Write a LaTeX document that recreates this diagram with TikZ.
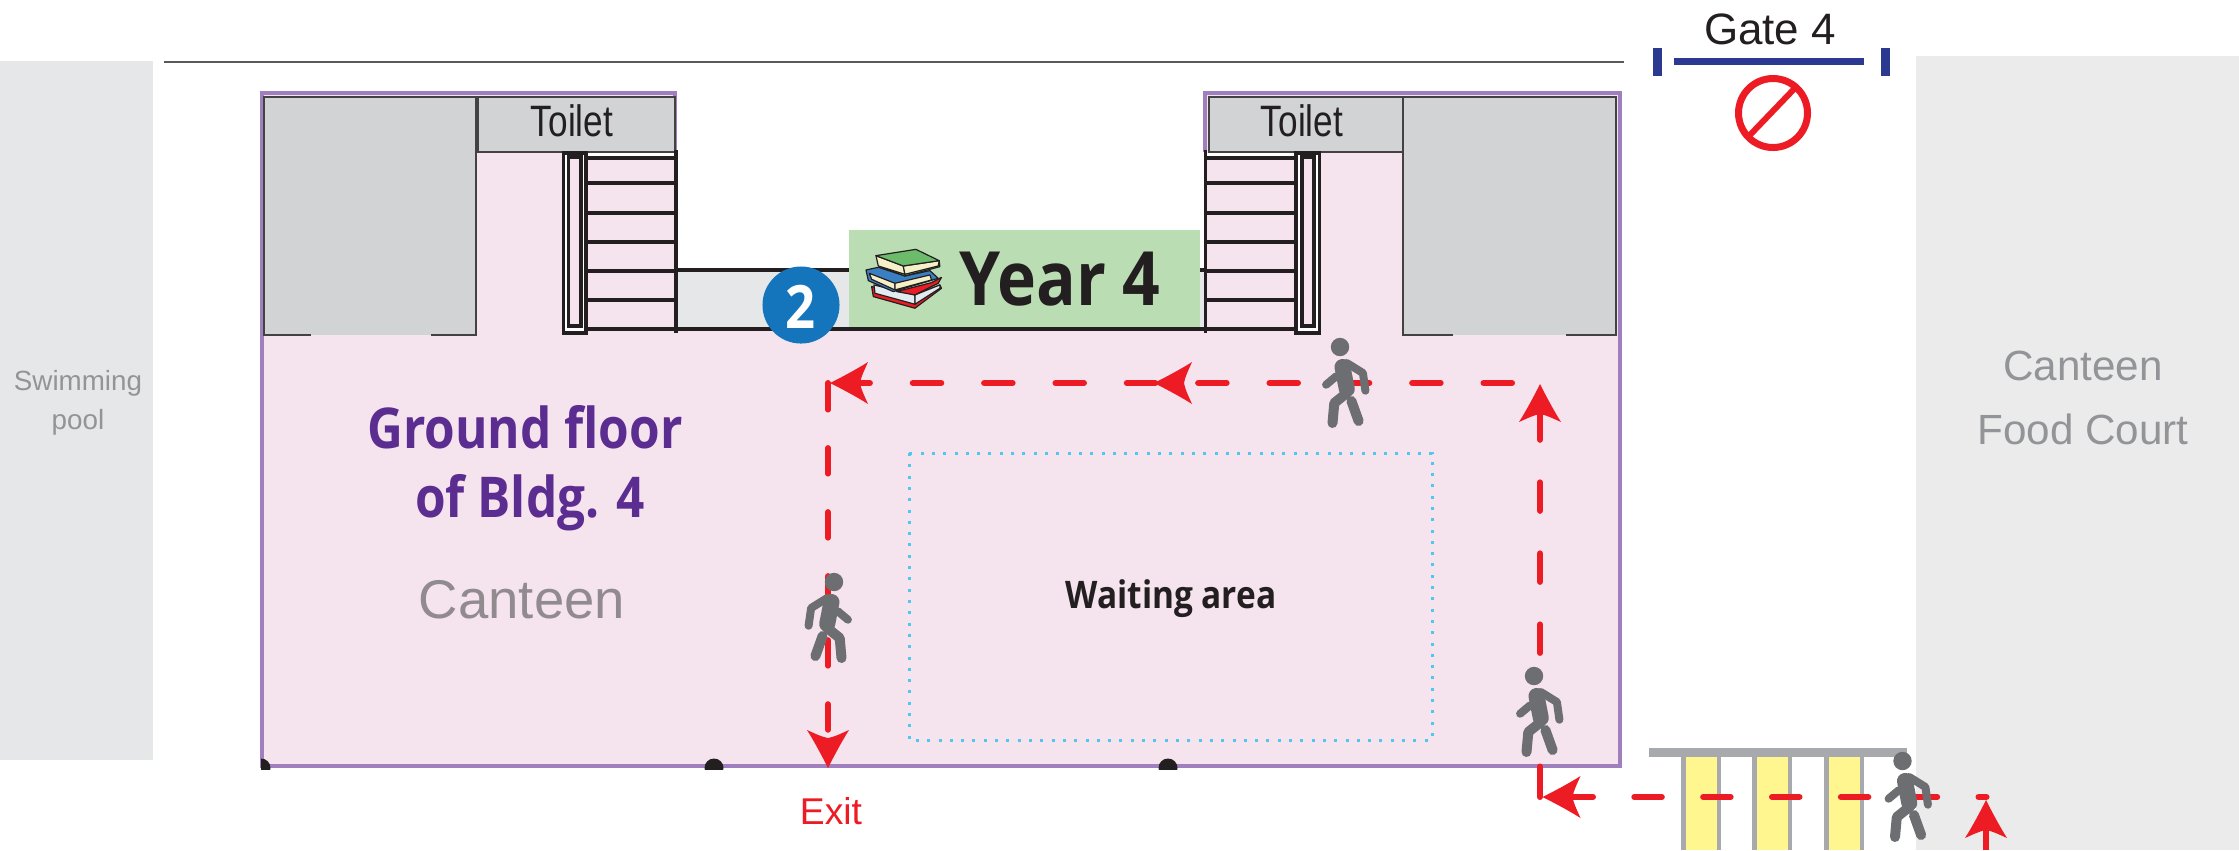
\documentclass[tikz,border=0pt]{standalone}
\usepackage{fontspec}
\setmainfont{Liberation Sans}
\newfontfamily\signfont[FakeStretch=0.88]{Open Sans}
\newfontfamily\narrowfont[FakeStretch=0.8]{Liberation Sans}
\definecolor{floorpink}{RGB}{245,228,238}
\definecolor{wallpurple}{RGB}{160,127,190}
\definecolor{roomgray}{RGB}{209,211,212}
\definecolor{sidegray}{RGB}{230,231,232}
\definecolor{courtgray}{RGB}{235,235,235}
\definecolor{labelgray}{RGB}{146,148,151}
\definecolor{canteengray}{RGB}{145,138,143}
\definecolor{inkblack}{RGB}{35,31,32}
\definecolor{routered}{RGB}{237,28,36}
\definecolor{walkergray}{RGB}{109,110,113}
\definecolor{gateblue}{RGB}{43,57,144}
\definecolor{badgeblue}{RGB}{21,117,188}
\definecolor{signgreen}{RGB}{187,221,179}
\definecolor{floorviolet}{RGB}{92,45,145}
\definecolor{waitcyan}{RGB}{79,200,240}
\definecolor{barriergray}{RGB}{167,169,172}
\definecolor{barrieryellow}{RGB}{255,246,143}
\definecolor{bookgreen}{RGB}{108,187,107}
\definecolor{bookblue}{RGB}{58,127,193}
\definecolor{bookcream}{RGB}{246,240,200}
\definecolor{bookwhite}{RGB}{225,235,240}
\tikzset{
	lab/.style={anchor=base,inner sep=0pt,align=center},
	wall/.style={inkblack,line width=0.035cm},
	roomline/.style={inkblack!85,line width=0.012cm},
	routeline/.style={routered,line width=0.06cm,line cap=round},
	walker/.pic={
		\fill[walkergray] (0,0) circle (9.2);
		\draw[walkergray,line width=0.08cm,line cap=round,line join=round] (6.8,16) -- (22.9,26) -- (25.4,43.7);
		\draw[walkergray,line width=0.08cm,line cap=round] (-13.9,37.7) -- (-3.9,29.3);
		\draw[walkergray,line width=0.16cm,line cap=round] (2.5,20) -- (6.8,42);
		\draw[walkergray,line width=0.1cm,line cap=round,line join=round] (6.8,46) -- (-5.7,56) -- (-7.5,76);
		\draw[walkergray,line width=0.1cm,line cap=round] (11.4,54) -- (18.6,74);
	},
	routehead/.pic={
		\fill[routered] (0,0) .. controls (12,-6) and (27,-14) .. (38,-21) .. controls (34,-12) and (31,-6) .. (30,0) .. controls (31,6) and (34,12) .. (38,21) .. controls (27,14) and (12,6) .. (0,0) -- cycle;
	}
}
\begin{document}
\begin{tikzpicture}[x=0.01cm,y=-0.01cm]
	\useasboundingbox (0,0) rectangle (2239,850);
	% side blocks
	\fill[sidegray] (0,61) rectangle (153,760);
	\fill[courtgray] (1916,56) rectangle (2239,850);
	\node[lab,font=\fontsize{7.9}{10}\selectfont,text=labelgray] (poolone) at (78,390) {Swimming};
	\node[lab,font=\fontsize{7.9}{10}\selectfont,text=labelgray] (pooltwo) at (78,429) {pool};
	\node[lab,font=\fontsize{12}{14}\selectfont,text=labelgray] (courtone) at (2083,380) {Canteen};
	\node[lab,font=\fontsize{12}{14}\selectfont,text=labelgray] (courttwo) at (2083,444) {Food Court};
	% top wall and gate
	\draw[black!65,line width=0.025cm] (164,62) -- (1624,62);
	\draw[gateblue,line width=0.07cm] (1674,61.5) -- (1864,61.5);
	\fill[gateblue] (1653,48) rectangle (1662,76);
	\fill[gateblue] (1881,48) rectangle (1890,76);
	\node[lab,font=\fontsize{12.5}{15}\selectfont,text=inkblack] (gatelabel) at (1770,44) {Gate 4};
	\draw[routered,line width=0.07cm] (1773,113) circle (34.5);
	\draw[routered,line width=0.06cm] (1795,88) -- (1748,137);
	% ground floor
	\fill[floorpink] (262,93) -- (675,93) -- (675,330) -- (1205,330) -- (1205,93) -- (1620,93) -- (1620,766) -- (262,766) -- cycle;
	\draw[wallpurple,line width=0.033cm] (675,152) -- (675,93) -- (262,93) -- (262,766) -- (1620,766) -- (1620,93) -- (1205,93) -- (1205,152);
	\begin{scope}
		\clip (261,750) rectangle (1200,769);
		\foreach \dotx in {261,714,1168}
			\fill[inkblack] (\dotx,768) circle (9.5);
	\end{scope}
	% rooms
	\fill[roomgray] (264,97) rectangle (476,335);
	\draw[roomline] (311,335) -- (264,335) -- (264,97) -- (476,97) -- (476,335) -- (431,335);
	\fill[roomgray] (478,97) rectangle (675,152);
	\draw[roomline] (478,97) rectangle (675,152);
	\fill[roomgray] (1403,97) rectangle (1616,335);
	\draw[roomline] (1453,335) -- (1403,335) -- (1403,97) -- (1616,97) -- (1616,335) -- (1566,335);
	\fill[roomgray] (1209,97) rectangle (1403,152);
	\draw[roomline] (1209,97) rectangle (1403,152);
	\node[lab,font=\narrowfont\fontsize{12.5}{15}\selectfont,text=inkblack] (toiletleft) at (572,136) {Toilet};
	\node[lab,font=\narrowfont\fontsize{12.5}{15}\selectfont,text=inkblack] (toiletright) at (1302,136) {Toilet};
	% corridor
	\fill[sidegray] (676,270) rectangle (1205,329);
	\draw[wall] (676,270) -- (1205,270);
	% stairs
	\fill[white] (566,153) rectangle (675,157);
	\fill[white] (1206,153) rectangle (1318,157);
	\foreach \stepy in {158,183,213,242,271,300,329} {
		\draw[wall] (587,\stepy) -- (676,\stepy);
		\draw[wall] (1205,\stepy) -- (1295,\stepy);
	}
	\draw[wall] (676,150) -- (676,333);
	\draw[wall] (1205.5,150) -- (1205.5,333);
	\draw[wall,fill=white] (563.5,153) rectangle (586,333);
	\draw[wall,fill=floorpink] (568.5,157) rectangle (581,326);
	\draw[wall,fill=white] (1296,153) rectangle (1319.5,333);
	\draw[wall,fill=floorpink] (1302,157) rectangle (1314,326);
	% year sign
	\draw[inkblack,line width=0.035cm] (676,329) -- (1205,329);
	\fill[signgreen] (849,230) rectangle (1200,327);
	\node[draw=none,circle,fill=badgeblue,minimum size=0.77cm,inner sep=0pt] (badge) at (801,305) {};
	\node[lab,font=\signfont\bfseries\fontsize{17}{20}\selectfont,text=white] (badgenum) at (801,328) {2};
	\node[lab,font=\signfont\bfseries\fontsize{21.3}{25}\selectfont,text=inkblack] (yearlabel) at (1060,305) {Year 4};
	% books
	\begin{scope}[shift={(860,240)},x=0.00333cm,y=-0.00333cm,line width=0.012cm,draw=inkblack,line join=round]
		\draw[fill=routered] (35,140) -- (40,170) -- (165,205) -- (245,145) -- (240,135) -- (165,165) -- cycle;
		\draw[fill=bookwhite] (42,135) -- (165,165) -- (165,193) -- (45,160) -- cycle;
		\draw[fill=bookwhite] (165,165) -- (240,135) -- (240,145) -- (165,193) -- cycle;
		\draw[fill=routered] (110,155) -- (215,128) -- (245,112) -- (235,130) -- (165,165) -- cycle;
		\draw[fill=bookblue] (18,90) -- (55,82) -- (135,108) -- (210,92) -- (235,115) -- (100,155) -- (25,122) -- cycle;
		\draw[fill=bookcream] (28,100) -- (105,130) -- (105,150) -- (35,118) -- cycle;
		\draw[fill=bookcream] (105,130) -- (210,105) -- (215,120) -- (105,150) -- cycle;
		\draw[fill=bookgreen] (60,80) -- (135,108) -- (240,80) -- (238,62) -- (135,85) -- cycle;
		\draw[fill=bookcream] (48,47) -- (130,78) -- (135,103) -- (55,78) -- cycle;
		\draw[fill=bookcream] (130,78) -- (238,62) -- (235,78) -- (135,103) -- cycle;
		\draw[fill=bookgreen] (48,47) -- (168,28) -- (238,62) -- (130,78) -- cycle;
	\end{scope}
	% floor labels
	\node[lab,font=\signfont\bfseries\fontsize{16}{19}\selectfont,text=floorviolet] (floorone) at (525,448) {Ground floor};
	\node[lab,font=\signfont\bfseries\fontsize{16}{19}\selectfont,text=floorviolet] (floortwo) at (530,517) {of Bldg. 4};
	\node[lab,font=\fontsize{15.5}{18}\selectfont,text=canteengray] (canteen) at (522,618) {Canteen};
	% waiting area
	\draw[waitcyan,line width=0.03cm,dash pattern=on 0.03cm off 0.083cm] (909,453) rectangle (1432,740);
	\node[lab,font=\signfont\bfseries\fontsize{10.8}{13}\selectfont,text=inkblack] (waiting) at (1171,608) {Waiting area};
	% barrier
	\foreach \barx in {1681,1752,1824} {
		\fill[barriergray] (\barx,757) rectangle (\barx+40,850);
		\fill[barrieryellow] (\barx+4.5,757) rectangle (\barx+35.5,850);
	}
	\fill[barriergray] (1649,748) rectangle (1907,757);
	% route
	\coordinate (entrybase) at (1986,850);
	\coordinate (entrytip) at (1986,800);
	\coordinate (outerstart) at (1986.5,797);
	\coordinate (outercorner) at (1540,797);
	\coordinate (sidetip) at (1540,384);
	\coordinate (topstart) at (1512,383);
	\coordinate (topmid) at (1154,383);
	\coordinate (topcorner) at (828,383);
	\coordinate (exittip) at (828,768);
	\coordinate (exitstop) at (828,735);
	\draw[routeline,line cap=butt] (entrybase) -- (1986,825);
	\draw[routeline,dash pattern=on 0.275cm off 0.413cm,dash phase=0.195cm] (outerstart) -- (outercorner);
	\draw[routeline,dash pattern=on 0.285cm off 0.425cm] (1540,795) -- (sidetip);
	\draw[routeline] (outercorner) -- (1540,795);
	\draw[routeline,dash pattern=on 0.285cm off 0.428cm] (topstart) -- (topcorner);
	\draw[routeline,dash pattern=on 0.255cm off 0.385cm] (828,384) -- (exitstop);
	\draw[routeline] (topcorner) -- (828,409);
	\pic[rotate=-90] at (entrytip) {routehead};
	\pic at (1542.5,797) {routehead};
	\pic[rotate=-90] at (sidetip) {routehead};
	\pic at (topmid) {routehead};
	\pic at (830,383) {routehead};
	\pic[rotate=90] at (exittip) {routehead};
	\node[lab,font=\fontsize{10.6}{13}\selectfont,text=routered] (exitlabel) at (831,824) {Exit};
	% walkers
	\pic at (1340,347) {walker};
	\pic at (1534,676) {walker};
	\pic at (1902.5,761) {walker};
	\pic[xscale=-1] at (834,582) {walker};
\end{tikzpicture}
\end{document}
